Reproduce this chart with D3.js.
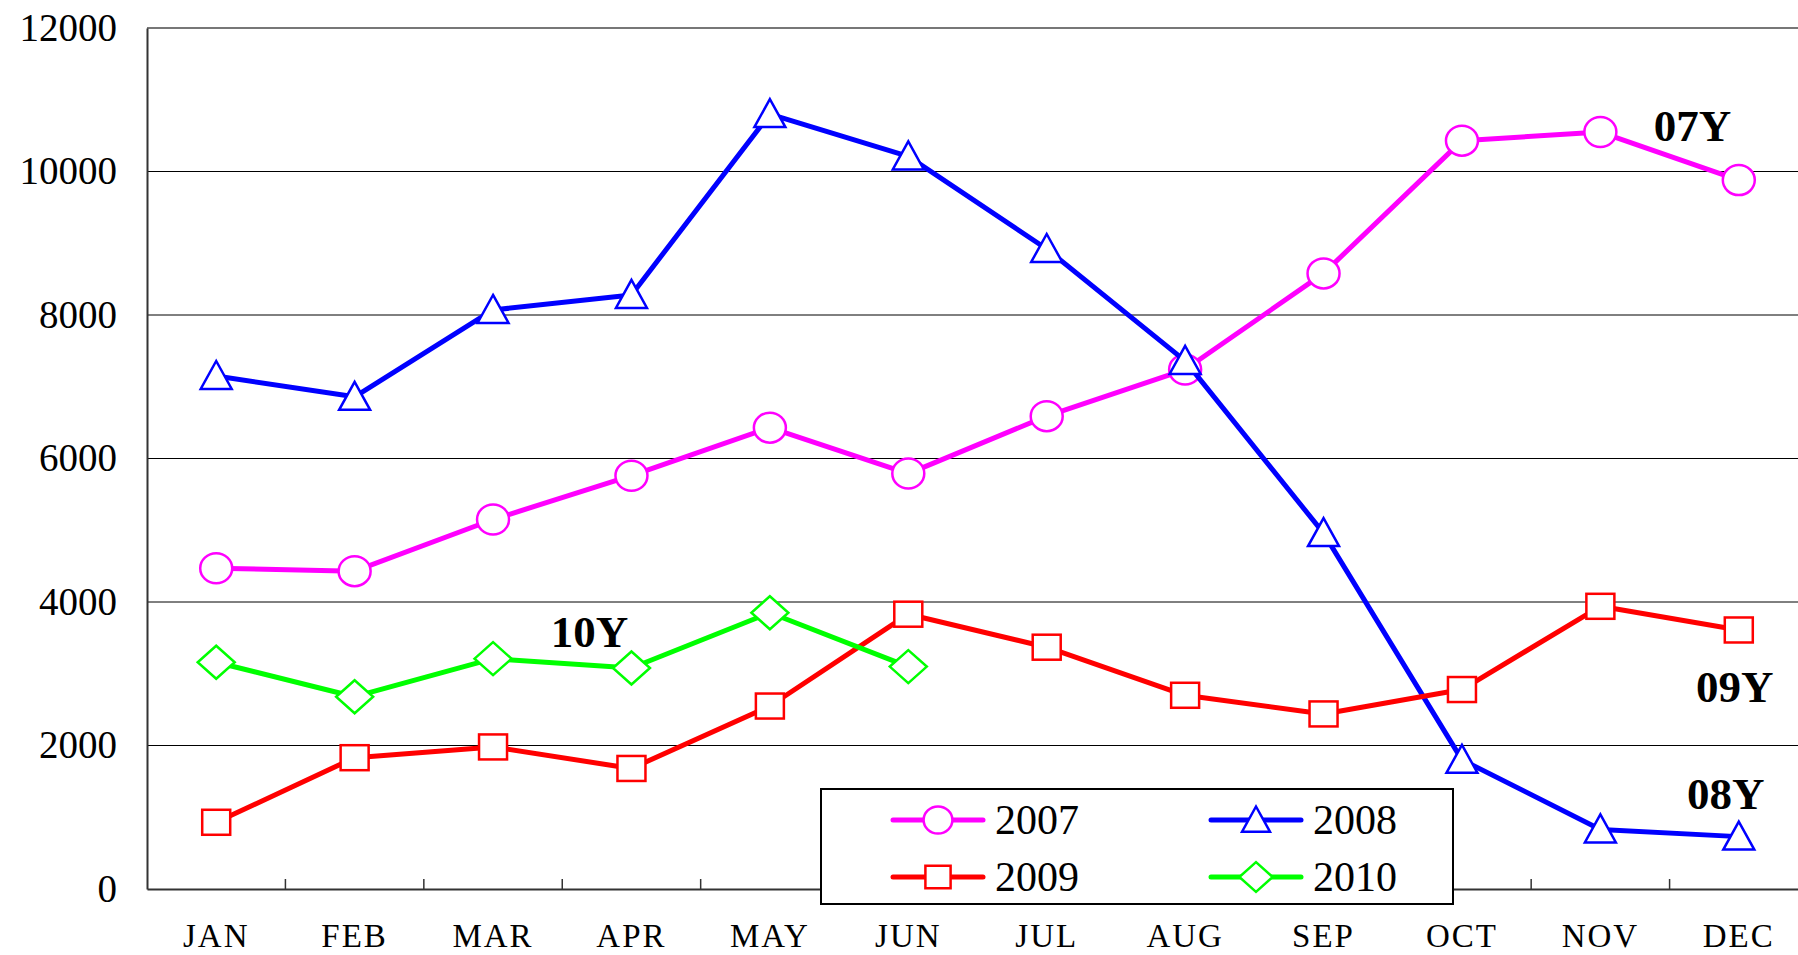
<!DOCTYPE html>
<html><head><meta charset="utf-8">
<script src="https://cdn.jsdelivr.net/npm/d3@7"></script>
<style>
body{margin:0;background:#fff;overflow:hidden;}
svg{display:block;}
text{font-family:"Liberation Serif","Times New Roman",serif;fill:#000;}
</style></head>
<body>
<svg id="chart" width="1798" height="955"></svg>
<script>
const months = ["JAN","FEB","MAR","APR","MAY","JUN","JUL","AUG","SEP","OCT","NOV","DEC"];
const yTicks = [0,2000,4000,6000,8000,10000,12000];
const s2007 = [4470,4430,5150,5760,6430,5790,6590,7240,8580,10430,10550,9880];
const s2008 = [7150,6860,8070,8280,10800,10210,8920,7360,4960,1800,830,730];
const s2009 = [930,1830,1980,1680,2550,3830,3370,2700,2440,2780,3940,3610];
const s2010 = [3160,2680,3210,3080,3850,3100];
const seriesNames = ["2007","2008","2009","2010"];
const seriesColors = ["#ff00ff","#0000ff","#ff0000","#00ff00"];
const seriesMarkers = ["circle","triangle","square","diamond"];
const seriesValues = [s2007,s2008,s2009,s2010];
const endLabels = [
  {text:"07Y", month:"NOV", value:10425, dx:92},
  {text:"10Y", month:"APR", value:3373, dx:-42},
  {text:"09Y", month:"DEC", value:2606, dx:-4},
  {text:"08Y", month:"DEC", value:1115, dx:-13}
];

const svg = d3.select("#chart");
const L=147, R=1808, T=28, B=889;
const x = d3.scaleBand().domain(months).range([L,R]);
const y = d3.scaleLinear().domain([0,12000]).range([B,T]);

// gridlines
svg.append("g").selectAll("line").data(yTicks.filter(d=>d>0)).join("line")
  .attr("x1",L).attr("x2",R).attr("y1",d=>y(d)).attr("y2",d=>y(d))
  .attr("stroke",d=>d===12000?"#777":"#000").attr("stroke-width",d=>d===12000?2:1);

// y axis
const ya = svg.append("g").attr("transform",`translate(${L},0)`)
  .call(d3.axisLeft(y).tickValues(yTicks).tickSize(0).tickPadding(30).tickFormat(d3.format("d")));
ya.select(".domain").attr("stroke","#333").attr("stroke-width",2);
ya.selectAll("text").attr("font-size",39).attr("font-family","Liberation Serif");

// x axis
const xa = svg.append("g").attr("transform",`translate(0,${B})`)
  .call(d3.axisBottom(x).tickSize(0).tickPadding(35));
xa.select(".domain").attr("stroke","#333").attr("stroke-width",2);
xa.selectAll("text").attr("font-size",33).attr("letter-spacing","2px").attr("font-family","Liberation Serif");
// x boundary ticks (upward)
svg.append("g").selectAll("line").data(months.slice(1)).join("line")
  .attr("x1",d=>x(d)).attr("x2",d=>x(d)).attr("y1",B).attr("y2",B-10)
  .attr("stroke","#333").attr("stroke-width",1.5);

const cx = m => x(m)+x.bandwidth()/2;

function drawMarker(g, type, color, k){
  k = k||1;
  g.attr("fill","#fff").attr("stroke",color).attr("stroke-width",2.5);
  if(type==="circle") g.append("ellipse").attr("rx",16*k).attr("ry",15*k);
  else if(type==="square") g.append("rect").attr("x",-14*k).attr("y",-12.5*k).attr("width",28*k).attr("height",25*k);
  else if(type==="triangle") g.append("path").attr("d",`M0,${-15*k}L${15.5*k},${13*k}L${-15.5*k},${13*k}Z`);
  else if(type==="diamond") g.append("path").attr("d",`M0,${-16.5*k}L${18.5*k},0L0,${16.5*k}L${-18.5*k},0Z`);
}

const line = d3.line().x(d=>cx(d.m)).y(d=>y(d.v));
seriesValues.forEach((vals,i)=>{
  const data = vals.map((v,j)=>({m:months[j],v}));
  const g = svg.append("g");
  g.append("path").datum(data).attr("d",line).attr("fill","none")
    .attr("stroke",seriesColors[i]).attr("stroke-width",5).attr("stroke-linejoin","round");
  g.selectAll("g.mk").data(data).join("g").attr("class","mk")
    .attr("transform",d=>`translate(${cx(d.m)},${y(d.v)})`)
    .each(function(){ drawMarker(d3.select(this), seriesMarkers[i], seriesColors[i]); });
});

// end labels
svg.append("g").selectAll("text").data(endLabels).join("text")
  .attr("x",d=>cx(d.month)+d.dx).attr("y",d=>y(d.value))
  .attr("text-anchor","middle").attr("font-weight","bold").attr("font-size",45)
  .text(d=>d.text);

// legend
const lg = svg.append("g");
lg.append("rect").attr("x",821).attr("y",789).attr("width",632).attr("height",115)
  .attr("fill","#fff").attr("stroke","#000").attr("stroke-width",2);
const legPos = [[938,820],[1256,820],[938,877],[1256,877]];
seriesNames.forEach((n,i)=>{
  const [mx,my] = legPos[i];
  const g = lg.append("g");
  g.append("line").attr("x1",mx-45).attr("x2",mx+45).attr("y1",my).attr("y2",my)
    .attr("stroke",seriesColors[i]).attr("stroke-width",5).attr("stroke-linecap","round");
  const mk = g.append("g").attr("transform",`translate(${mx},${my})`);
  drawMarker(mk, seriesMarkers[i], seriesColors[i], 0.9);
  g.append("text").attr("x",mx+57).attr("y",my+14)
    .attr("font-size",42).text(n);
});
</script>
</body></html>
